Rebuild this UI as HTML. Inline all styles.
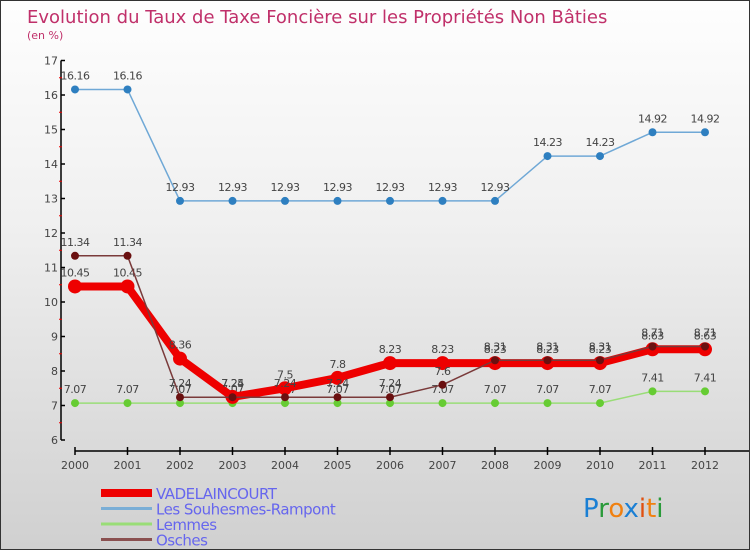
<!DOCTYPE html>
<html><head><meta charset="utf-8"><style>
body{margin:0}
#c{width:748px;height:548px;border:1px solid #333;background:linear-gradient(#fefefe,#f0f0f0 40%,#d0d0d0);position:relative;font-family:"DejaVu Sans","Liberation Sans",sans-serif;overflow:hidden}
</style></head><body>
<div id="c">
<svg id="s" width="748" height="548" style="position:absolute;left:0;top:0"></svg>
</div>
<script>
const years=[2000,2001,2002,2003,2004,2005,2006,2007,2008,2009,2010,2011,2012];
const vadel=[10.45,10.45,8.36,7.25,7.5,7.8,8.23,8.23,8.23,8.23,8.23,8.63,8.63];
const souh=[16.16,16.16,12.93,12.93,12.93,12.93,12.93,12.93,12.93,14.23,14.23,14.92,14.92];
const lemmes=[7.07,7.07,7.07,7.07,7.07,7.07,7.07,7.07,7.07,7.07,7.07,7.41,7.41];
const osches=[11.34,11.34,7.24,7.24,7.24,7.24,7.24,7.6,8.31,8.31,8.31,8.71,8.71];
const yTicks=[6,7,8,9,10,11,12,13,14,15,16,17];
const NS="http://www.w3.org/2000/svg",s=document.getElementById('s');
const X=i=>74+i*52.5, Y=v=>439-(v-6)*34.5;
function el(t,a,p){const e=document.createElementNS(NS,t);for(const k in a)e.setAttribute(k,a[k]);(p||s).appendChild(e);return e;}
function tx(x,y,str,a){const e=el('text',Object.assign({x:x,y:y},a));e.textContent=str;return e;}
let t=tx(26,22,'Evolution du Taux de Taxe Foncière sur les Propriétés Non Bâties',{fill:'#c0306a','font-size':18});

t=tx(26,38,'(en %)',{fill:'#c0306a','font-size':11});

let ax=el('g',{stroke:'#000','stroke-width':1.5});

el('line',{x1:60,y1:Y(17),x2:60,y2:Y(6)},ax);
el('line',{x1:74,y1:450,x2:748,y2:450},ax);
yTicks.forEach(v=>{el('line',{x1:60,x2:64,y1:Y(v),y2:Y(v)},ax);
 const l=tx(57,Y(v)+4,v,{'text-anchor':'end','font-size':11,fill:'#444'});
 
 if(v<17)el('line',{x1:58,x2:61,y1:Y(v+0.5),y2:Y(v+0.5),stroke:'#e00'},s);});
years.forEach((y,i)=>{el('line',{x1:X(i),x2:X(i),y1:446,y2:454},ax);
 const l=tx(X(i),468,y,{'text-anchor':'middle','font-size':11,fill:'#444'});
 });
function series(d,col,w,r,dot,name){
 const g=el('g',{});
 el('polyline',{points:d.map((v,i)=>X(i)+','+Y(v)).join(' '),fill:'none',stroke:col,'stroke-width':w,'stroke-linejoin':'round'},g);
 d.forEach((v,i)=>{const c=el('circle',{cx:X(i),cy:Y(v),r:r,fill:dot},g);
  
  const l=tx(X(i),Y(v)-10,v,{'text-anchor':'middle','font-size':11,fill:'#444','letter-spacing':'-0.5'},g);
  });
}
series(souh,'#6fa8d6',1.5,4,'#2e7fc0','souhesmes-series');
series(lemmes,'#99dd77',1.5,4,'#66cc33','lemmes-series');
series(vadel,'#ee0000',8,7,'#ee0000','vadelaincourt-series');
series(osches,'#7a3a3a',1.5,4,'#6a1010','osches-series');
const legend=[['VADELAINCOURT','#ee0000',8],['Les Souhesmes-Rampont','#7aaed6',3],['Lemmes','#99dd77',3],['Osches','#8a5050',3]];
legend.forEach((L,i)=>{const g=el('g',{});
 const y=492+i*15.5;el('line',{x1:100,x2:151,y1:y,y2:y,stroke:L[1],'stroke-width':L[2]},g);
 tx(155,y+6,L[0],{'font-size':15,fill:'#6666ee','letter-spacing':'-0.5'},g);});
const lg=el('text',{x:582,y:516,'font-size':26,'font-family':'DejaVu Sans',fill:'#1a7fd4'});

[['P','#1a7fd4'],['r','#2a9a3a'],['o','#f08010'],['x','#1a7fd4'],['i','#e05010'],['t','#f08010'],['i','#2a9a3a']].forEach(p=>{const ts=el('tspan',{fill:p[1]},lg);ts.textContent=p[0];});
</script>
</body></html>
